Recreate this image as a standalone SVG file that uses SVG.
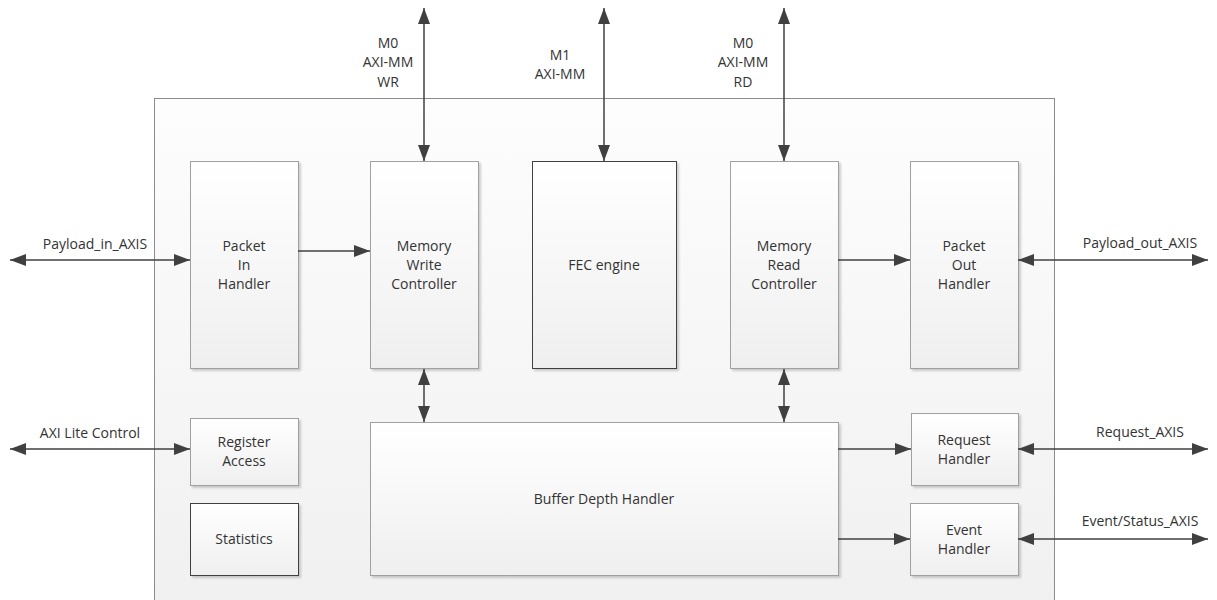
<svg xmlns="http://www.w3.org/2000/svg" width="1217" height="600" viewBox="0 0 1217 600">
  <defs>
    <linearGradient id="boxFill" x1="0" y1="0" x2="0" y2="1">
      <stop offset="0" stop-color="#ffffff"/>
      <stop offset="1" stop-color="#efefef"/>
    </linearGradient>
    <linearGradient id="outerFill" x1="0" y1="0" x2="0" y2="1">
      <stop offset="0" stop-color="#fdfdfd"/>
      <stop offset="1" stop-color="#f0f0f0"/>
    </linearGradient>
    <filter id="shadow" x="-10%" y="-10%" width="130%" height="130%">
      <feDropShadow dx="2" dy="2" stdDeviation="1" flood-color="#000" flood-opacity="0.18"/>
    </filter>
    <marker id="arrowEnd" markerUnits="userSpaceOnUse" markerWidth="18" markerHeight="12" refX="16" refY="6" orient="auto">
      <path d="M0,0 L16,6 L0,12 Z" fill="#404040"/>
    </marker>
    <marker id="arrowStart" markerUnits="userSpaceOnUse" markerWidth="18" markerHeight="12" refX="0" refY="6" orient="auto">
      <path d="M16,0 L0,6 L16,12 Z" fill="#404040"/>
    </marker>
  </defs>
  <style>
    .outer { fill: url(#outerFill); stroke: #8c8c8c; stroke-width: 1; }
    .box { fill: url(#boxFill); stroke: #a0a0a0; stroke-width: 1; filter: url(#shadow); }
    .box.dark { stroke: #404040; }
    .label { font-family: "Open Sans", "Liberation Sans", sans-serif; font-size: 14px; fill: #333333; text-anchor: middle; }
    .conn { stroke: #404040; stroke-width: 1.5; fill: none; }
    .uni { marker-end: url(#arrowEnd); }
    .bi { marker-start: url(#arrowStart); marker-end: url(#arrowEnd); }
  </style>

  <!-- enclosing block -->
  <rect class="outer" x="154.5" y="98.5" width="900" height="520"/>

  <!-- processing blocks -->
  <g id="packet-in-handler">
    <rect class="box" x="190.5" y="161.5" width="108" height="207"/>
    <text class="label" x="244" y="251">Packet</text>
    <text class="label" x="244" y="270">In</text>
    <text class="label" x="244" y="289">Handler</text>
  </g>
  <g id="memory-write-controller">
    <rect class="box" x="370.5" y="161.5" width="108" height="207"/>
    <text class="label" x="424" y="251">Memory</text>
    <text class="label" x="424" y="270">Write</text>
    <text class="label" x="424" y="289">Controller</text>
  </g>
  <g id="fec-engine">
    <rect class="box dark" x="532.5" y="161.5" width="144" height="207"/>
    <text class="label" x="604" y="270">FEC engine</text>
  </g>
  <g id="memory-read-controller">
    <rect class="box" x="730.5" y="161.5" width="108" height="207"/>
    <text class="label" x="784" y="251">Memory</text>
    <text class="label" x="784" y="270">Read</text>
    <text class="label" x="784" y="289">Controller</text>
  </g>
  <g id="packet-out-handler">
    <rect class="box" x="910.5" y="161.5" width="108" height="207"/>
    <text class="label" x="964" y="251">Packet</text>
    <text class="label" x="964" y="270">Out</text>
    <text class="label" x="964" y="289">Handler</text>
  </g>
  <g id="register-access">
    <rect class="box" x="190.5" y="418.5" width="108" height="67"/>
    <text class="label" x="244" y="447">Register</text>
    <text class="label" x="244" y="466">Access</text>
  </g>
  <g id="statistics">
    <rect class="box dark" x="190.5" y="503.5" width="108" height="72"/>
    <text class="label" x="244" y="544">Statistics</text>
  </g>
  <g id="buffer-depth-handler">
    <rect class="box" x="370.5" y="422.5" width="468" height="153"/>
    <text class="label" x="604" y="504">Buffer Depth Handler</text>
  </g>
  <g id="request-handler">
    <rect class="box" x="911.5" y="413.5" width="107" height="72"/>
    <text class="label" x="964" y="445">Request</text>
    <text class="label" x="964" y="464">Handler</text>
  </g>
  <g id="event-handler">
    <rect class="box" x="910.5" y="503.5" width="108" height="72"/>
    <text class="label" x="964" y="535">Event</text>
    <text class="label" x="964" y="554">Handler</text>
  </g>

  <!-- connectors -->
  <g id="connectors">
    <line class="conn bi" x1="424" y1="8" x2="424" y2="161"/>
    <line class="conn bi" x1="604" y1="8" x2="604" y2="161"/>
    <line class="conn bi" x1="784" y1="8" x2="784" y2="161"/>
    <line class="conn bi" x1="10" y1="260" x2="190" y2="260"/>
    <line class="conn uni" x1="298" y1="251" x2="370" y2="251"/>
    <line class="conn uni" x1="838" y1="260" x2="910" y2="260"/>
    <line class="conn bi" x1="1018" y1="260" x2="1208" y2="260"/>
    <line class="conn bi" x1="10" y1="449" x2="190" y2="449"/>
    <line class="conn bi" x1="424" y1="369" x2="424" y2="422"/>
    <line class="conn bi" x1="784" y1="369" x2="784" y2="422"/>
    <line class="conn uni" x1="838" y1="449" x2="911" y2="449"/>
    <line class="conn uni" x1="838" y1="539" x2="910" y2="539"/>
    <line class="conn bi" x1="1018" y1="449" x2="1208" y2="449"/>
    <line class="conn bi" x1="1018" y1="539" x2="1208" y2="539"/>
  </g>

  <!-- interface labels -->
  <g id="interface-labels">
    <text class="label" x="388" y="48">M0</text>
    <text class="label" x="388" y="67">AXI-MM</text>
    <text class="label" x="388" y="87">WR</text>
    <text class="label" x="560" y="60">M1</text>
    <text class="label" x="560" y="79">AXI-MM</text>
    <text class="label" x="743" y="48">M0</text>
    <text class="label" x="743" y="67">AXI-MM</text>
    <text class="label" x="743" y="87">RD</text>
    <text class="label" x="95" y="249">Payload_in_AXIS</text>
    <text class="label" x="1140" y="248">Payload_out_AXIS</text>
    <text class="label" x="90" y="438">AXI Lite Control</text>
    <text class="label" x="1140" y="437">Request_AXIS</text>
    <text class="label" x="1140" y="526">Event/Status_AXIS</text>
  </g>
</svg>
